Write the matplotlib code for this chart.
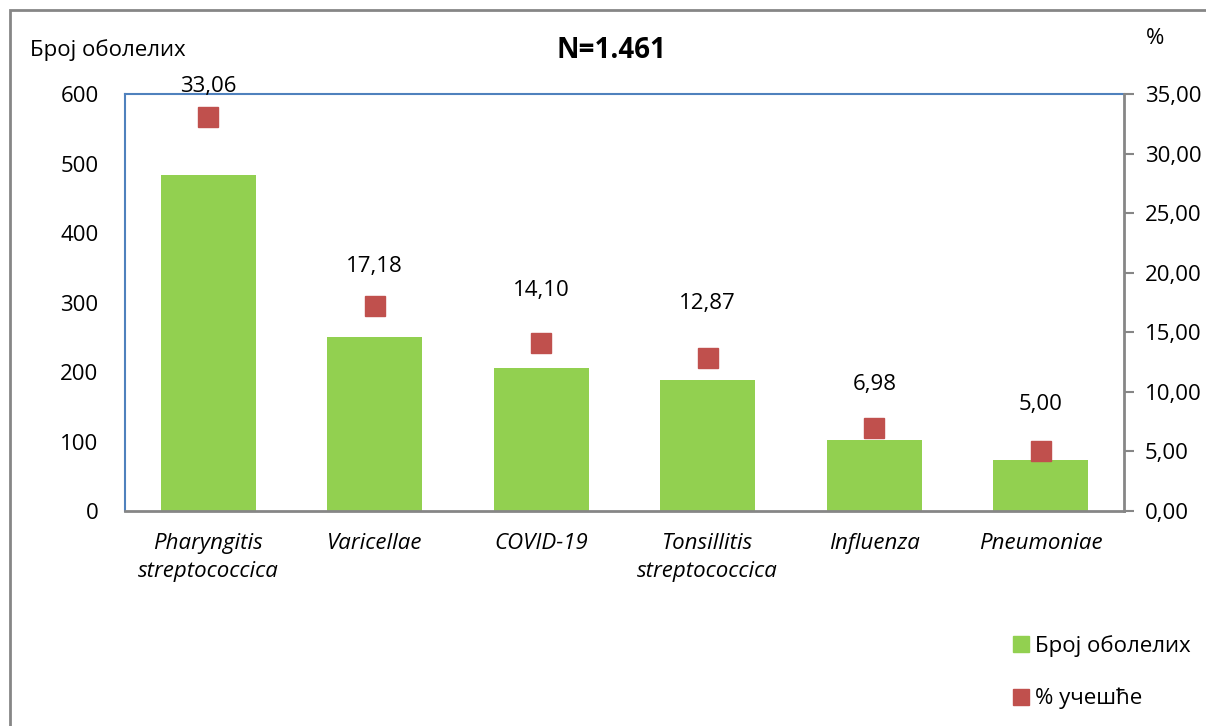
import matplotlib
matplotlib.use("Agg")
import matplotlib.pyplot as plt
from matplotlib.patches import Rectangle
from matplotlib.lines import Line2D

categories = ["Pharyngitis\nstreptococcica", "Varicellae", "COVID-19",
              "Tonsillitis\nstreptococcica", "Influenza", "Pneumoniae"]
counts = [483, 251, 206, 188, 102, 73]
percents = [33.06, 17.18, 14.10, 12.87, 6.98, 5.00]
left_ticks = [0, 100, 200, 300, 400, 500, 600]
right_ticks = [0, 5, 10, 15, 20, 25, 30, 35]

# label offsets above markers (pixels), layout only
label_offsets_px = [31, 40, 53, 54, 43, 47]

plt.rcParams['font.family'] = ['Open Sans', 'DejaVu Sans']

W, H = 1206, 726
fig = plt.figure(figsize=(W / 100, H / 100), dpi=100)

bar_color = "#92D050"
mk_color = "#C0504D"
gray = "#868686"
blue = "#4F81BD"
FS = 16

# outer frame
fig.patches.append(Rectangle((10 / W, -0.05), 1.2, 1 - 10 / H + 0.05,
                             transform=fig.transFigure, fill=False,
                             edgecolor=gray, linewidth=2))

ax = fig.add_axes([125 / W, (H - 511) / H, 999 / W, 417 / H])
x = list(range(len(categories)))
ax.bar(x, counts, width=0.57, color=bar_color, zorder=2)
ax.set_xlim(-0.5, len(categories) - 0.5)
ax.set_ylim(0, 600)
ax.set_yticks(left_ticks)
ax.set_yticklabels([str(t) for t in left_ticks], fontsize=FS)
ax.tick_params(axis='y', length=0, pad=19)
ax.set_xticks(x)
ax.set_xticklabels(categories, fontsize=FS, style='italic', linespacing=1.4)
ax.tick_params(axis='x', length=0, pad=16)
for s in ['left', 'top']:
    ax.spines[s].set_color(blue)
    ax.spines[s].set_linewidth(1.5)
ax.spines['right'].set_visible(False)
ax.spines['bottom'].set_color(gray)
ax.spines['bottom'].set_linewidth(2)

ax2 = ax.twinx()
ax2.set_ylim(0, 35)
ax2.set_yticks(right_ticks)
ax2.set_yticklabels([f"{t:.2f}".replace('.', ',') for t in right_ticks], fontsize=FS)
ax2.tick_params(axis='y', length=7, width=1.5, color=gray, pad=8)
ax2.spines['right'].set_color(gray)
ax2.spines['right'].set_linewidth(2)
ax2.spines['left'].set_visible(False)
ax2.spines['top'].set_visible(False)
ax2.spines['bottom'].set_visible(False)
ax2.plot(x, percents, linestyle='none', marker='s', markersize=14.5,
         color=mk_color, zorder=3, clip_on=False)
for xi, p, off in zip(x, percents, label_offsets_px):
    ax2.annotate(f"{p:.2f}".replace('.', ','), (xi, p), xytext=(0, off * 0.72),
                 textcoords='offset points', ha='center', va='center',
                 fontsize=FS, annotation_clip=False)

fig.text(611 / W, 1 - 50 / H, "N=1.461", fontsize=20, fontweight='bold',
         ha='center', va='center')
fig.text(30 / W, 1 - 50 / H, "Број оболелих", fontsize=FS, ha='left', va='center')
fig.text(1146 / W, 1 - 38 / H, "%", fontsize=FS, ha='left', va='center')

handles = [Line2D([], [], linestyle='none', marker='s', markersize=11, color=bar_color),
           Line2D([], [], linestyle='none', marker='s', markersize=11, color=mk_color)]
fig.legend(handles, ["Број оболелих", "% учешће"], loc='upper left',
           bbox_to_anchor=(1008 / W, 1 - 635 / H), frameon=False, fontsize=FS,
           handletextpad=0.0, labelspacing=1.4, handlelength=1.2,
           borderpad=0, borderaxespad=0)

fig.savefig("out.png", dpi=100)
